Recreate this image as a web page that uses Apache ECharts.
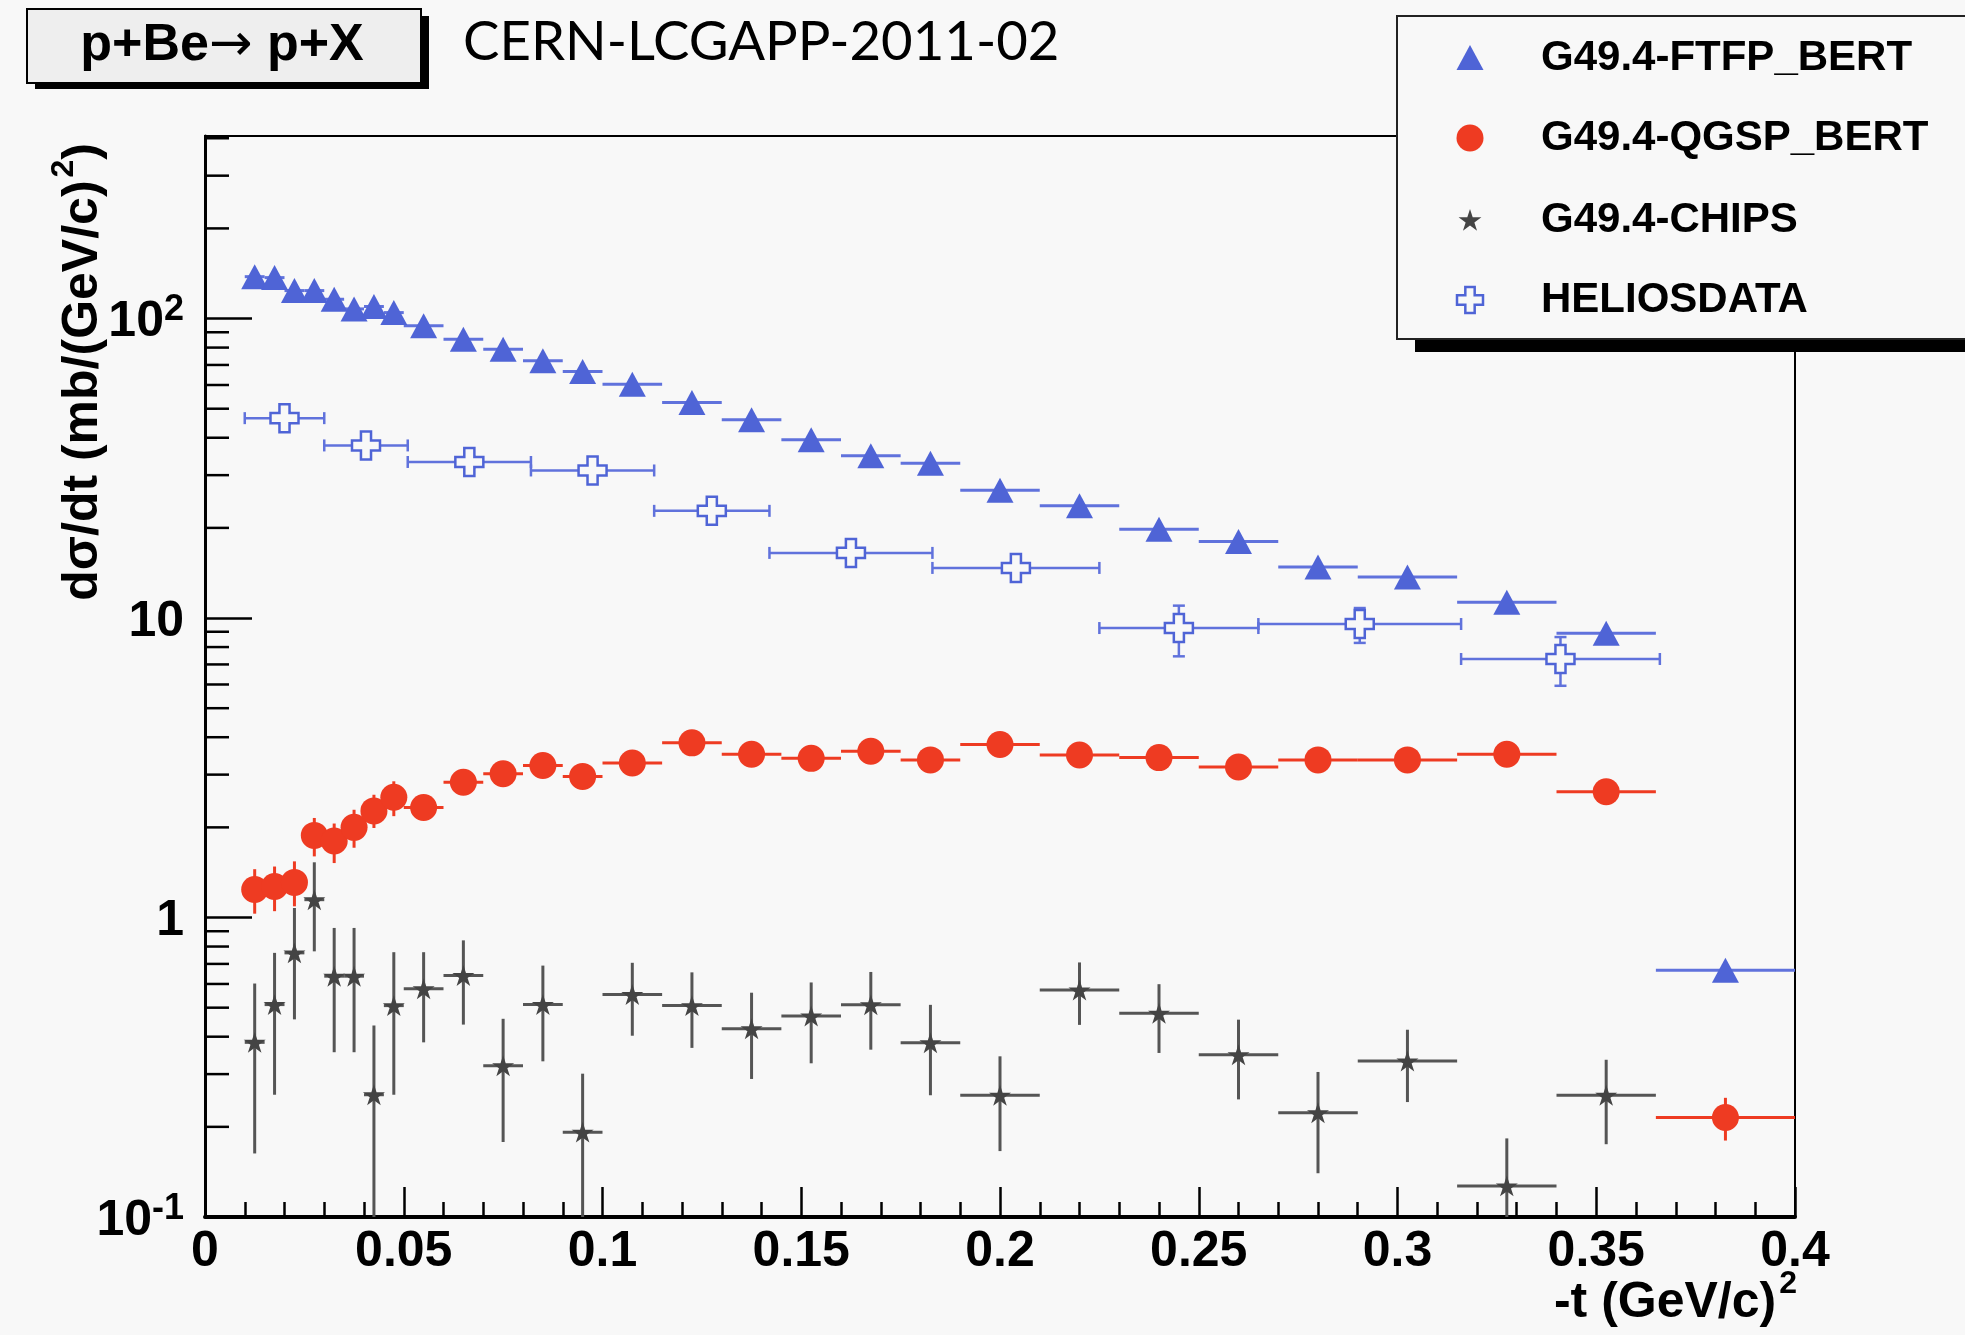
<!DOCTYPE html>
<html>
<head>
<meta charset="utf-8">
<script src="https://cdn.jsdelivr.net/npm/echarts@6/dist/echarts.min.js"></script>
<style>
  html, body { margin: 0; padding: 0; background: #f8f8f8; }
  #chart { width: 1965px; height: 1335px; }
</style>
</head>
<body>
<div id="chart"></div>
<script>
// ---- binning in -t (GeV/c)^2 shared by the three Geant4 models ----
const tCenter = [0.0125, 0.0175, 0.0225, 0.0275, 0.0325, 0.0375, 0.0425, 0.0475, 0.055, 0.065, 0.075, 0.085, 0.095, 0.1075,
                 0.1225, 0.1375, 0.1525, 0.1675, 0.1825, 0.200, 0.220, 0.240, 0.260, 0.280, 0.3025, 0.3275, 0.3525, 0.3825];
const binLo   = [0.010, 0.015, 0.020, 0.025, 0.030, 0.035, 0.040, 0.045, 0.050, 0.060, 0.070, 0.080, 0.090, 0.100,
                 0.115, 0.130, 0.145, 0.160, 0.175, 0.190, 0.210, 0.230, 0.250, 0.270, 0.290, 0.315, 0.340, 0.365];
const binHi   = [0.015, 0.020, 0.025, 0.030, 0.035, 0.040, 0.045, 0.050, 0.060, 0.070, 0.080, 0.090, 0.100, 0.115,
                 0.130, 0.145, 0.160, 0.175, 0.190, 0.210, 0.230, 0.250, 0.270, 0.290, 0.315, 0.340, 0.365, 0.400];

// ---- G49.4-FTFP_BERT ----
const ftfpVal = [138, 137, 124, 124, 116, 107.7, 109.7, 104.7, 94.6, 85.3, 79.0, 72.3, 66.6, 60.4,
                 52.4, 45.9, 39.4, 34.8, 32.9, 26.7, 23.7, 19.8, 18.0, 14.8, 13.7, 11.3, 8.9, 0.667];

// ---- G49.4-QGSP_BERT ----
const qgspVal = [1.24, 1.27, 1.31, 1.88, 1.80, 2.00, 2.27, 2.52, 2.33, 2.83, 3.02, 3.22, 2.96, 3.28,
                 3.83, 3.51, 3.40, 3.59, 3.36, 3.78, 3.49, 3.42, 3.18, 3.36, 3.36, 3.51, 2.63, 0.215];
const qgspHi  = [1.45, 1.48, 1.54, 2.15, 2.06, 2.29, 2.57, 2.85, 2.43, 2.95, 3.14, 3.35, 3.08, 3.41,
                 3.98, 3.65, 3.54, 3.73, 3.49, 3.93, 3.63, 3.56, 3.31, 3.49, 3.49, 3.65, 2.74, 0.250];
const qgspLo  = [1.03, 1.05, 1.09, 1.60, 1.52, 1.71, 1.99, 2.18, 2.23, 2.71, 2.90, 3.09, 2.84, 3.15,
                 3.68, 3.37, 3.26, 3.45, 3.23, 3.63, 3.35, 3.28, 3.05, 3.23, 3.23, 3.37, 2.52, 0.180];

// ---- G49.4-CHIPS (no entry in the last bin) ----
const chipsVal = [0.383, 0.512, 0.762, 1.147, 0.637, 0.637, 0.256, 0.508, 0.578, 0.640, 0.320, 0.512, 0.192, 0.553,
                  0.508, 0.425, 0.469, 0.511, 0.382, 0.255, 0.573, 0.479, 0.348, 0.223, 0.332, 0.127, 0.255, null];
const chipsHi  = [0.602, 0.762, 1.076, 1.529, 0.923, 0.923, 0.436, 0.766, 0.766, 0.839, 0.459, 0.691, 0.301, 0.706,
                  0.656, 0.561, 0.607, 0.658, 0.511, 0.344, 0.708, 0.599, 0.456, 0.305, 0.422, 0.183, 0.335, null];
const chipsLo  = [0.163, 0.256, 0.457, 0.771, 0.355, 0.355, 0.080, 0.256, 0.383, 0.439, 0.178, 0.331, 0.080, 0.403,
                  0.367, 0.289, 0.326, 0.362, 0.255, 0.166, 0.438, 0.353, 0.247, 0.140, 0.242, 0.080, 0.175, null];

// ---- HELIOS data, own binning ----
const heliosT     = [0.020, 0.0405, 0.0665, 0.0975, 0.1275, 0.1625, 0.204, 0.245, 0.2905, 0.341];
const heliosLo    = [0.010, 0.030, 0.051, 0.082, 0.113, 0.142, 0.183, 0.225, 0.265, 0.316];
const heliosHi    = [0.030, 0.051, 0.082, 0.113, 0.142, 0.183, 0.225, 0.265, 0.316, 0.366];
const heliosVal   = [46.5, 37.7, 33.2, 31.1, 22.8, 16.5, 14.7, 9.26, 9.55, 7.30];
const heliosErrHi = [48.5, 39.3, 34.6, 32.4, 23.8, 17.3, 15.4, 11.0, 10.8, 8.64];
const heliosErrLo = [44.5, 36.1, 31.8, 29.8, 21.8, 15.7, 14.0, 7.45, 8.26, 5.94];

// ---- axes ----
const xMin = 0, xMax = 0.4, xStep = 0.05;
const xTickLabels = ['0', '0.05', '0.1', '0.15', '0.2', '0.25', '0.3', '0.35', '0.4'];
const yMin = 0.1, yMax = 407;
const yDecades = [0.1, 1, 10, 100];
const yDecadeLabels = ['10{sup|-1}', '1', '10', '10{sup|2}'];

const seriesNames = ['G49.4-FTFP_BERT', 'G49.4-QGSP_BERT', 'G49.4-CHIPS', 'HELIOSDATA'];

const BG = '#f8f8f8';
const BLUE = '#4f64d6';
const BLUE_BAR = '#6072dc';
const RED = '#ee3b22';
const STAR = '#444444';
const STAR_BAR = '#555555';
const FONT = '"Liberation Sans", Arial, sans-serif';

const STAR_PATH = 'path://M100,0L122.45,69.1L195.11,69.1L136.33,111.8L158.78,180.9L100,138.2L41.22,180.9L63.67,111.8L4.89,69.1L77.55,69.1Z';
const CROSS_PATH = 'path://M32,0H68V32H100V68H68V100H32V68H0V32H32Z';

// rows: [x, y, xLow, xHigh, yLow, yHigh]
function rows(xs, ys, lo, hi, yl, yh) {
  const out = [];
  xs.forEach((x, i) => {
    if (ys[i] == null) return;
    out.push([x, ys[i], lo[i], hi[i], yl ? yl[i] : null, yh ? yh[i] : null]);
  });
  return out;
}

function errorBars(name, data, color, width, cap) {
  return {
    type: 'custom', name: name, data: data, clip: true, silent: true, z: 3,
    encode: { x: 0, y: 1 },
    renderItem: function (params, api) {
      const x = api.value(0), y = api.value(1);
      const c = api.coord([x, y]);
      const l = api.coord([api.value(2), y]);
      const r = api.coord([api.value(3), y]);
      const st = { stroke: color, lineWidth: width };
      const kids = [{ type: 'line', shape: { x1: l[0], y1: c[1], x2: r[0], y2: c[1] }, style: st }];
      if (cap) {
        kids.push({ type: 'line', shape: { x1: l[0], y1: c[1] - cap, x2: l[0], y2: c[1] + cap }, style: st });
        kids.push({ type: 'line', shape: { x1: r[0], y1: c[1] - cap, x2: r[0], y2: c[1] + cap }, style: st });
      }
      const lo = api.value(4), hi = api.value(5);
      if (isFinite(lo) && isFinite(hi)) {
        const b = api.coord([x, lo]), t = api.coord([x, hi]);
        kids.push({ type: 'line', shape: { x1: c[0], y1: b[1], x2: c[0], y2: t[1] }, style: st });
        if (cap) {
          kids.push({ type: 'line', shape: { x1: c[0] - cap, y1: b[1], x2: c[0] + cap, y2: b[1] }, style: st });
          kids.push({ type: 'line', shape: { x1: c[0] - cap, y1: t[1], x2: c[0] + cap, y2: t[1] }, style: st });
        }
      }
      return { type: 'group', children: kids };
    }
  };
}

function markers(name, data, symbol, size, itemStyle, keep) {
  return {
    type: 'scatter', name: name, data: data.map(d => [d[0], d[1]]),
    symbol: symbol, symbolSize: size, symbolKeepAspect: !!keep,
    itemStyle: Object.assign({ opacity: 1 }, itemStyle),
    silent: true, z: 5, emphasis: { disabled: true }
  };
}

const ftfpRows = rows(tCenter, ftfpVal, binLo, binHi);
const qgspRows = rows(tCenter, qgspVal, binLo, binHi, qgspLo, qgspHi);
const chipsRows = rows(tCenter, chipsVal, binLo, binHi, chipsLo, chipsHi);
const heliosRows = rows(heliosT, heliosVal, heliosLo, heliosHi, heliosErrLo, heliosErrHi);

// minor log ticks 2..9 of every decade
const yMinorTicks = [];
yDecades.forEach(d => { for (let m = 2; m <= 9; m++) { if (d * m < yMax) yMinorTicks.push([0, d * m]); } });

function decadeLabel(v) {
  const i = yDecades.findIndex(d => Math.abs(Math.log10(v) - Math.log10(d)) < 1e-6);
  return i < 0 ? '' : yDecadeLabels[i];
}

// legend drawing helpers
function starPoints(cx, cy, R) {
  const pts = [];
  for (let k = 0; k < 10; k++) {
    const a = -Math.PI / 2 + k * Math.PI / 5;
    const r = k % 2 ? R * 0.382 : R;
    pts.push([cx + r * Math.cos(a), cy + r * Math.sin(a)]);
  }
  return pts;
}
function crossPoints(cx, cy, h) {
  const a = h * 0.36;
  return [[cx - a, cy - h], [cx + a, cy - h], [cx + a, cy - a], [cx + h, cy - a], [cx + h, cy + a], [cx + a, cy + a],
          [cx + a, cy + h], [cx - a, cy + h], [cx - a, cy + a], [cx - h, cy + a], [cx - h, cy - a], [cx - a, cy - a]];
}

const legX = 1397, legY = 16, legRows = [58, 138, 220, 300], legMarkX = 1470, legTextX = 1541;
const legendFont = 'bold 42px ' + FONT;

// superscript style for axis titles
const titleSup = { fontSize: 32, lineHeight: 32, fontWeight: 'bold', fontFamily: FONT, fill: '#000', verticalAlign: 'top', padding: [0, 0, 0, 3] };

const graphics = [
  // title box
  { type: 'rect', z: 50, shape: { x: 35, y: 16, width: 394, height: 73 }, style: { fill: '#000' } },
  { type: 'rect', z: 51, shape: { x: 27, y: 9, width: 394, height: 74 }, style: { fill: '#eeeeee', stroke: '#000', lineWidth: 2 } },
  { type: 'text', z: 52, x: 222, y: 46,
    style: { text: 'p+Be{arr|\u2192} p+X', font: 'bold 52px ' + FONT, fill: '#000', align: 'center', verticalAlign: 'middle',
             rich: { arr: { fontSize: 52, fontWeight: 'normal', fontFamily: '"DejaVu Sans", sans-serif', fill: '#000' } } } },
  { type: 'text', z: 52, x: 463, y: 42, style: { text: 'CERN-LCGAPP-2011-02', font: '54.5px Lato, "Open Sans", sans-serif', fill: '#000', align: 'left', verticalAlign: 'middle' } },
  // legend box
  { type: 'rect', z: 60, shape: { x: legX + 18, y: legY + 322, width: 700, height: 14 }, style: { fill: '#000' } },
  { type: 'rect', z: 61, shape: { x: legX, y: legY, width: 700, height: 323 }, style: { fill: BG, stroke: '#222', lineWidth: 2 } },
  { type: 'polygon', z: 62, shape: { points: [[legMarkX - 13.5, legRows[0] + 12], [legMarkX + 13.5, legRows[0] + 12], [legMarkX, legRows[0] - 13]] }, style: { fill: BLUE } },
  { type: 'circle', z: 62, shape: { cx: legMarkX, cy: legRows[1], r: 13.5 }, style: { fill: RED } },
  { type: 'polygon', z: 62, shape: { points: starPoints(legMarkX, legRows[2] + 1, 12) }, style: { fill: STAR } },
  { type: 'polygon', z: 62, shape: { points: crossPoints(legMarkX, legRows[3], 13) }, style: { fill: BG, stroke: BLUE, lineWidth: 2.5 } },
  // axis titles
  { type: 'text', z: 20, x: 83, y: 143, rotation: Math.PI / 2,
    style: { text: 'd\u03c3/dt (mb/(GeV/c){sup|2})', font: 'bold 50px ' + FONT, lineHeight: 70, fill: '#000', align: 'right', verticalAlign: 'middle',
             rich: { sup: titleSup } } },
  { type: 'text', z: 20, x: 1797, y: 1303,
    style: { text: '-t (GeV/c){sup|2}', font: 'bold 50px ' + FONT, lineHeight: 70, fill: '#000', align: 'right', verticalAlign: 'middle',
             rich: { sup: titleSup } } }
];
seriesNames.forEach((n, i) => {
  graphics.push({ type: 'text', z: 62, x: legTextX, y: legRows[i], style: { text: n, font: legendFont, fill: '#000', align: 'left', verticalAlign: 'middle' } });
});

const chart = echarts.init(document.getElementById('chart'), null, { renderer: 'canvas' });
chart.setOption({
  animation: false,
  backgroundColor: BG,
  grid: {
    left: 205, top: 136, right: 170, bottom: 118, containLabel: false, outerBoundsMode: 'none',
    show: true, backgroundColor: BG, borderColor: '#000', borderWidth: 2
  },
  xAxis: {
    type: 'value', min: xMin, max: xMax, interval: xStep,
    axisLine: { show: true, onZero: false, lineStyle: { color: '#000', width: 4 } },
    axisTick: { show: true, inside: true, length: 30, lineStyle: { color: '#000', width: 2.5 } },
    minorTick: { show: true, splitNumber: 5, length: 15, lineStyle: { color: '#000', width: 2.5 } },
    splitLine: { show: false },
    axisLabel: {
      show: true, margin: 10, color: '#000', fontSize: 50, fontWeight: 'bold', fontFamily: FONT,
      showMinLabel: true, showMaxLabel: true, hideOverlap: false,
      formatter: v => { const k = Math.round((v - xMin) / xStep); return Math.abs(v - xMin - k * xStep) < 1e-9 ? (xTickLabels[k] || '') : ''; }
    }
  },
  yAxis: {
    type: 'log', logBase: 10, min: yMin, max: yMax,
    axisLine: { show: true, onZero: false, lineStyle: { color: '#000', width: 3 } },
    axisTick: { show: true, inside: true, length: 47, lineStyle: { color: '#000', width: 2.5 } },
    splitLine: { show: false },
    axisLabel: {
      show: true, margin: 21, color: '#000', fontSize: 50, lineHeight: 60, fontWeight: 'bold', fontFamily: FONT,
      showMaxLabel: false, hideOverlap: false, padding: [8, 0, 0, 0],
      formatter: v => decadeLabel(v),
      rich: { sup: { fontSize: 36, lineHeight: 36, fontWeight: 'bold', fontFamily: FONT, color: '#000', verticalAlign: 'top' } }
    }
  },
  graphic: graphics,
  series: [
    {
      type: 'custom', name: 'minor-log-ticks', data: yMinorTicks, silent: true, z: 6, encode: { x: 0, y: 1 },
      renderItem: function (params, api) {
        const p = api.coord([xMin, api.value(1)]);
        return { type: 'line', shape: { x1: p[0], y1: p[1], x2: p[0] + 24, y2: p[1] }, style: { stroke: '#000', lineWidth: 2.5 } };
      }
    },
    errorBars(seriesNames[0], ftfpRows, BLUE_BAR, 3, 0),
    errorBars(seriesNames[1], qgspRows, RED, 3, 0),
    errorBars(seriesNames[2], chipsRows, STAR_BAR, 3, 0),
    errorBars(seriesNames[3], heliosRows, BLUE_BAR, 2.5, 6),
    markers(seriesNames[0], ftfpRows, 'triangle', [27, 25], { color: BLUE }),
    markers(seriesNames[1], qgspRows, 'circle', 27, { color: RED }),
    markers(seriesNames[2], chipsRows, STAR_PATH, 22, { color: STAR }, true),
    markers(seriesNames[3], heliosRows, CROSS_PATH, 28, { color: BG, borderColor: BLUE, borderWidth: 2.5 })
  ]
});
</script>
</body>
</html>
